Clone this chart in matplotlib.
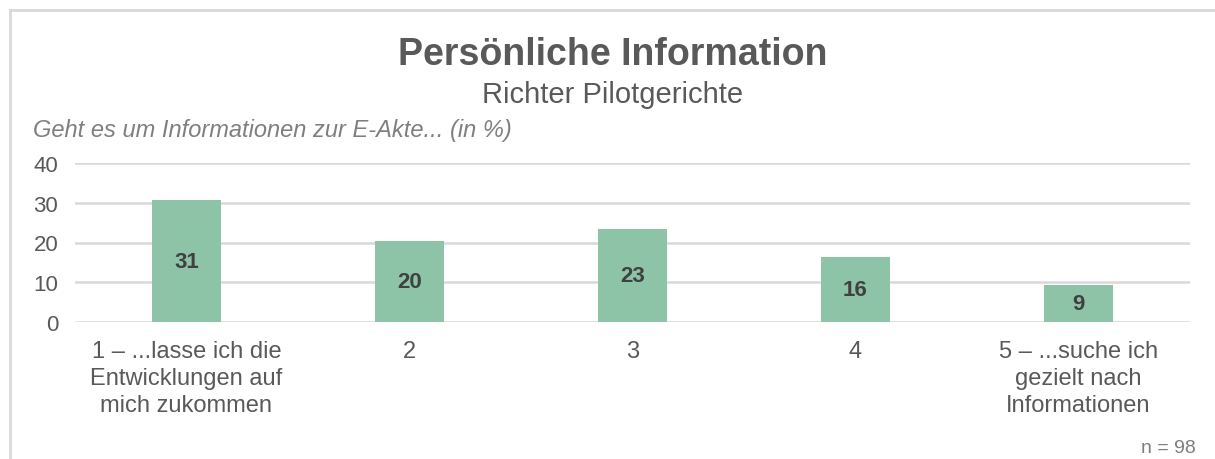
import matplotlib.pyplot as plt
from matplotlib.lines import Line2D

plt.rcParams['font.family'] = ['Liberation Sans', 'DejaVu Sans']

# data
categories = ["1 – ...lasse ich die\nEntwicklungen auf\nmich zukommen", "2", "3", "4",
              "5 – ...suche ich\ngezielt nach\nInformationen"]
values = [30.6, 20.4, 23.5, 16.3, 9.2]
labels = ["31", "20", "23", "16", "9"]
yticks = [0, 10, 20, 30, 40]

bar_color = "#8DC4A8"
grid_color = "#D9D9D9"
text_color = "#595959"

fig = plt.figure(figsize=(12.15, 4.6), dpi=100)
ax = fig.add_axes([75 / 1215, 1 - 323 / 460, 1115 / 1215, 159 / 460])

x = range(len(categories))
bars = ax.bar(x, values, width=0.31, color=bar_color, zorder=3)
for b, lab in zip(bars, labels):
    ax.text(b.get_x() + b.get_width() / 2, b.get_height() / 2, lab,
            ha="center", va="center", fontsize=16, fontweight="bold",
            color="#404040", zorder=4)

ax.set_xlim(-0.5, len(categories) - 0.5)
ax.set_ylim(0, 40)
ax.set_yticks(yticks)
ax.set_xticks(list(x))
ax.set_xticklabels(categories, fontsize=17, color=text_color, linespacing=1.3)
ax.tick_params(axis="y", labelsize=16, labelcolor=text_color, length=0, pad=12)
ax.tick_params(axis="x", length=0, pad=13)
ax.yaxis.grid(True, color=grid_color, linewidth=1.8, zorder=0)
for s in ax.spines.values():
    s.set_visible(False)

# titles
fig.text(613 / 1215, 1 - 55 / 460, "Persönliche Information", ha="center", va="center",
         fontsize=27, fontweight="bold", color=text_color)
fig.text(613 / 1215, 1 - 95 / 460, "Richter Pilotgerichte", ha="center", va="center",
         fontsize=21, color=text_color)
fig.text(33 / 1215, 1 - 131 / 460, "Geht es um Informationen zur E-Akte... (in %)",
         ha="left", va="center", fontsize=17, style="italic", color="#7F7F7F")
fig.text(1196 / 1215, 1 - 449 / 460, "n = 98", ha="right", va="center",
         fontsize=14, color="#7F7F7F")

# chart border (top and left visible)
fig.add_artist(Line2D([10 / 1215, 1], [1 - 11 / 460, 1 - 11 / 460], color=grid_color,
                      linewidth=2, transform=fig.transFigure))
fig.add_artist(Line2D([10 / 1215, 10 / 1215], [0, 1 - 11 / 460], color=grid_color,
                      linewidth=2, transform=fig.transFigure))

fig.savefig("out.png", dpi=100)
